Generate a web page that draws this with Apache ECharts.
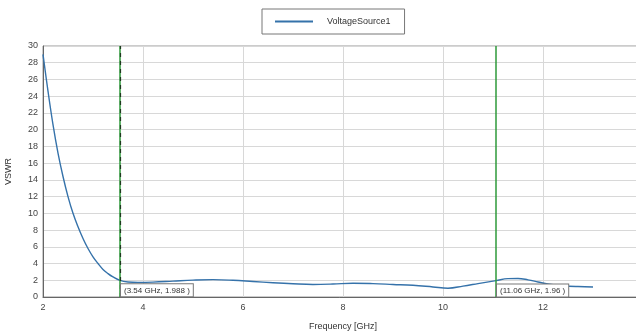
<!DOCTYPE html>
<html>
<head>
<meta charset="utf-8">
<script src="https://cdn.jsdelivr.net/npm/echarts@6/dist/echarts.min.js"></script>
<style>
  html, body { margin: 0; padding: 0; background: #fff; }
  #chart { width: 636px; height: 333px; }
</style>
</head>
<body>
<div id="chart"></div>
<script>
// VSWR sweep of VoltageSource1 (frequency in GHz)
const seriesName = 'VoltageSource1';
const freqGHz = [2.0, 2.1, 2.2, 2.3, 2.4, 2.5, 2.6, 2.7, 2.8, 2.9, 3.0, 3.1, 3.2, 3.3, 3.4, 3.54,
  3.7, 3.9, 4.2, 4.6, 5.0, 5.4, 5.8, 6.2, 6.6, 7.0, 7.4, 7.8, 8.2, 8.6, 9.0, 9.4, 9.8,
  10.1, 10.4, 10.7, 11.06, 11.3, 11.5, 11.7, 11.9, 12.1, 12.4, 12.7, 13.0];
const vswr = [29.0, 24.6, 20.6, 17.2, 14.4, 12.0, 10.0, 8.4, 7.0, 5.8, 4.8, 4.0, 3.3, 2.8, 2.4, 1.988,
  1.8, 1.75, 1.78, 1.9, 2.02, 2.08, 2.0, 1.85, 1.7, 1.58, 1.5, 1.55, 1.65, 1.6, 1.5, 1.4, 1.2,
  1.05, 1.3, 1.6, 1.96, 2.2, 2.22, 2.05, 1.8, 1.55, 1.35, 1.25, 1.2];

// Marker readouts
const markerFreq = [3.54, 11.06];
const markerVswr = [1.988, 1.96];
const markerText = ['(3.54 GHz, 1.988 )', '(11.06 GHz, 1.96 )'];

const data = freqGHz.map((f, i) => [f, vswr[i]]);

const chart = echarts.init(document.getElementById('chart'));
chart.setOption({
  animation: false,
  backgroundColor: '#fff',
  textStyle: { fontFamily: 'Liberation Sans, Arial, sans-serif' },
  legend: {
    left: 262, top: 9,
    padding: [8, 14, 8, 13],
    icon: 'rect',
    itemWidth: 38, itemHeight: 2,
    borderColor: '#777', borderWidth: 1,
    textStyle: { fontSize: 9, color: '#333', padding: [0, 0, 0, 9] },
    data: [seriesName]
  },
  grid: {
    left: 43, right: -7, top: 46, bottom: 36,
    containLabel: false, outerBoundsMode: 'none',
    show: true, borderColor: '#999', borderWidth: 1
  },
  xAxis: {
    type: 'value', min: 2, max: 14, interval: 2,
    name: 'Frequency [GHz]', nameLocation: 'middle', nameGap: 25,
    nameTextStyle: { fontSize: 9, color: '#333' },
    axisLine: { lineStyle: { color: '#666' } },
    axisTick: { show: false },
    axisLabel: { fontSize: 9, color: '#444', margin: 6 },
    splitLine: { show: true, lineStyle: { color: '#d8d8d8' } }
  },
  yAxis: {
    type: 'value', min: 0, max: 30, interval: 2,
    name: 'VSWR', nameLocation: 'middle', nameGap: 30,
    nameTextStyle: { fontSize: 9, color: '#333' },
    axisLine: { show: true, lineStyle: { color: '#666' } },
    axisTick: { show: false },
    axisLabel: { fontSize: 9, color: '#444', margin: 5 },
    splitLine: { show: true, lineStyle: { color: '#d8d8d8' } }
  },
  series: [
    {
      name: seriesName, type: 'line', data: data,
      smooth: 0.4, symbol: 'none',
      lineStyle: { color: '#3572aa', width: 1.4 },
      itemStyle: { color: '#3572aa' },
      markLine: {
        silent: true, symbol: 'none', label: { show: false },
        data: [
          { xAxis: markerFreq[0], lineStyle: { color: '#2e9a3a', width: 1.5, type: 'solid' } },
          { xAxis: markerFreq[0], lineStyle: { color: '#1d3a1d', width: 1.2, type: [4, 4] } },
          { xAxis: markerFreq[1], lineStyle: { color: '#2e9a3a', width: 1.5, type: 'solid' } }
        ]
      },
      markPoint: {
        symbol: 'rect', symbolSize: 0,
        data: markerFreq.map((f, i) => ({
          coord: [f, markerVswr[i]],
          label: {
            show: true, position: 'right', distance: 1, offset: [0, 10],
            formatter: markerText[i],
            fontSize: 8, color: '#333',
            backgroundColor: '#fff', borderColor: '#777', borderWidth: 1,
            padding: [2, 3]
          }
        }))
      }
    }
  ]
});
</script>
</body>
</html>
